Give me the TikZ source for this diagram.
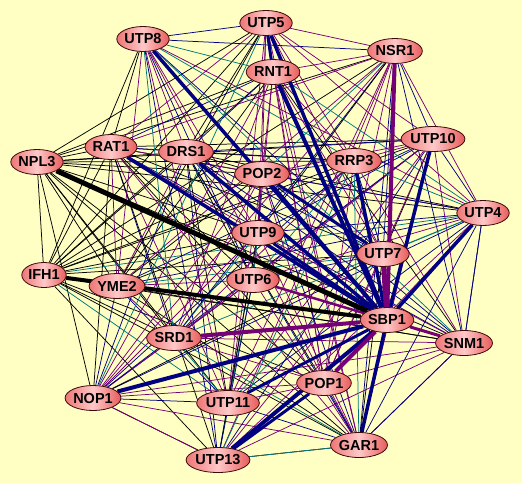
\documentclass[tikz,border=0pt]{standalone}
\usepackage{fontspec}
\setmainfont{Liberation Sans}
\usetikzlibrary{shapes.geometric}

\definecolor{paper}{RGB}{255,255,196}
\definecolor{eblack}{RGB}{0,0,0}
\definecolor{enavy}{RGB}{0,0,128}
\definecolor{epurple}{RGB}{118,0,118}
\definecolor{eteal}{RGB}{0,120,120}
\definecolor{protline}{RGB}{60,10,10}
\definecolor{protside}{RGB}{238,118,118}
\definecolor{protmid}{RGB}{255,200,200}
\definecolor{protright}{RGB}{232,92,92}

\pgfdeclarelayer{bg}
\pgfdeclarelayer{edges}
\pgfsetlayers{bg,edges,main}

\tikzset{
  prot/.style={ellipse, draw=protline, line width=0.8pt, inner sep=0pt,
    minimum height=25pt, left color=protside, right color=protright,
    middle color=protmid, font=\bfseries\fontsize{14.5}{16}\selectfont},
  thinedge/.style={line width=0.75pt},
  fatedge/.style={line width=#1},
}

% name/group, group 0 = black links, 1 = mixed
\def\protlist{NPL3/0,IFH1/0,RAT1/1,YME2/1,UTP8/2,DRS1/1,SRD1/2,NOP1/2,UTP11/2,UTP13/2,UTP5/2,RNT1/2,POP2/2,UTP9/2,UTP6/2,NSR1/2,RRP3/2,UTP10/2,UTP4/2,UTP7/2,SBP1/2,SNM1/2,POP1/2,GAR1/2}

\begin{document}
\begin{tikzpicture}[x=1pt,y=-1pt]
	\useasboundingbox (0,0) rectangle (522,483);
	\begin{pgfonlayer}{bg}
		\fill[paper] (0,0) rectangle (522,483);
	\end{pgfonlayer}

	\node[prot] (UTP8) at (143,39){UTP8};
	\node[prot] (UTP5) at (266,23){UTP5};
	\node[prot] (NSR1) at (395,51){NSR1};
	\node[prot] (RNT1) at (273,72){RNT1};
	\node[prot] (RAT1) at (111,147){RAT1};
	\node[prot] (DRS1) at (186,152){DRS1};
	\node[prot] (NPL3) at (37,162){NPL3};
	\node[prot] (POP2) at (262,174){POP2};
	\node[prot] (RRP3) at (354,161){RRP3};
	\node[prot] (UTP10) at (433,139){UTP10};
	\node[prot] (UTP4) at (483,213){UTP4};
	\node[prot] (UTP9) at (258,233){UTP9};
	\node[prot] (UTP7) at (383,254){UTP7};
	\node[prot] (IFH1) at (44,275){IFH1};
	\node[prot] (YME2) at (117,286){YME2};
	\node[prot] (UTP6) at (253,280){UTP6};
	\node[prot] (SBP1) at (387,320){SBP1};
	\node[prot] (SNM1) at (464,343){SNM1};
	\node[prot] (SRD1) at (174,338){SRD1};
	\node[prot] (NOP1) at (93,398){NOP1};
	\node[prot] (POP1) at (324,383){POP1};
	\node[prot] (UTP11) at (228,403){UTP11};
	\node[prot] (GAR1) at (359,445){GAR1};
	\node[prot] (UTP13) at (218,460){UTP13};

	\begin{pgfonlayer}{edges}
	% thin links
	\foreach \a/\ga [count=\i] in \protlist {
		\foreach \b/\gb [count=\j] in \protlist {
			\ifnum\j>\i
				\pgfmathtruncatemacro\h{mod(\i*17+\j*29+\i*\j*7,20)}
				\ifnum\h<17
					\pgfmathtruncatemacro\c{mod(\i*11+\j*7+\i*\j*3,10)}
					\pgfmathtruncatemacro\g{min(\ga,\gb)}
					\ifcase\g
						\edef\ecol{\ifnum\c=9 eteal\else eblack\fi}
					\or
						\edef\ecol{\ifcase\c eblack\or eblack\or eblack\or eblack\or eteal\or enavy\or enavy\or epurple\or epurple\else epurple\fi}
					\else
						\edef\ecol{\ifcase\c epurple\or epurple\or epurple\or epurple\or epurple\or enavy\or enavy\or enavy\or eblack\else eteal\fi}
					\fi
					\draw[thinedge, \ecol] (\a) -- (\b);
				\fi
			\fi
		}
	}
	\draw[thinedge, eteal] (UTP13) -- (GAR1);
	\draw[thinedge, epurple] (UTP13) -- (NOP1);
	\draw[thinedge, enavy] (SNM1) -- (GAR1);
	\draw[thinedge, enavy] (SNM1) -- (UTP4);

	% heavy links
	\foreach \a/\w in {UTP8/3.5pt, UTP5/3.5pt, RNT1/4pt, RAT1/3.5pt, DRS1/3.5pt, POP2/4pt, RRP3/3.5pt, UTP10/3.5pt, UTP4/3.5pt, NOP1/4pt, UTP11/3pt, UTP13/4pt, GAR1/3.5pt, UTP9/3pt}
		\draw[fatedge=\w, enavy] (\a) -- (SBP1);
	\draw[fatedge=3pt, enavy] (POP2) -- (UTP7);
	\draw[fatedge=3pt, enavy] (UTP13) -- (POP1);
	\draw[fatedge=3pt, enavy] (UTP5) -- (RNT1);

	\foreach \a/\w in {NSR1/4pt, UTP7/5pt, SRD1/4pt, POP1/4pt, SNM1/3pt, UTP6/2.5pt}
		\draw[fatedge=\w, epurple] (\a) -- (SBP1);

	\draw[fatedge=5pt, eblack] (NPL3) -- (SBP1);
	\draw[fatedge=4pt, eblack] (IFH1) -- (SBP1);
	\end{pgfonlayer}
\end{tikzpicture}
\end{document}
